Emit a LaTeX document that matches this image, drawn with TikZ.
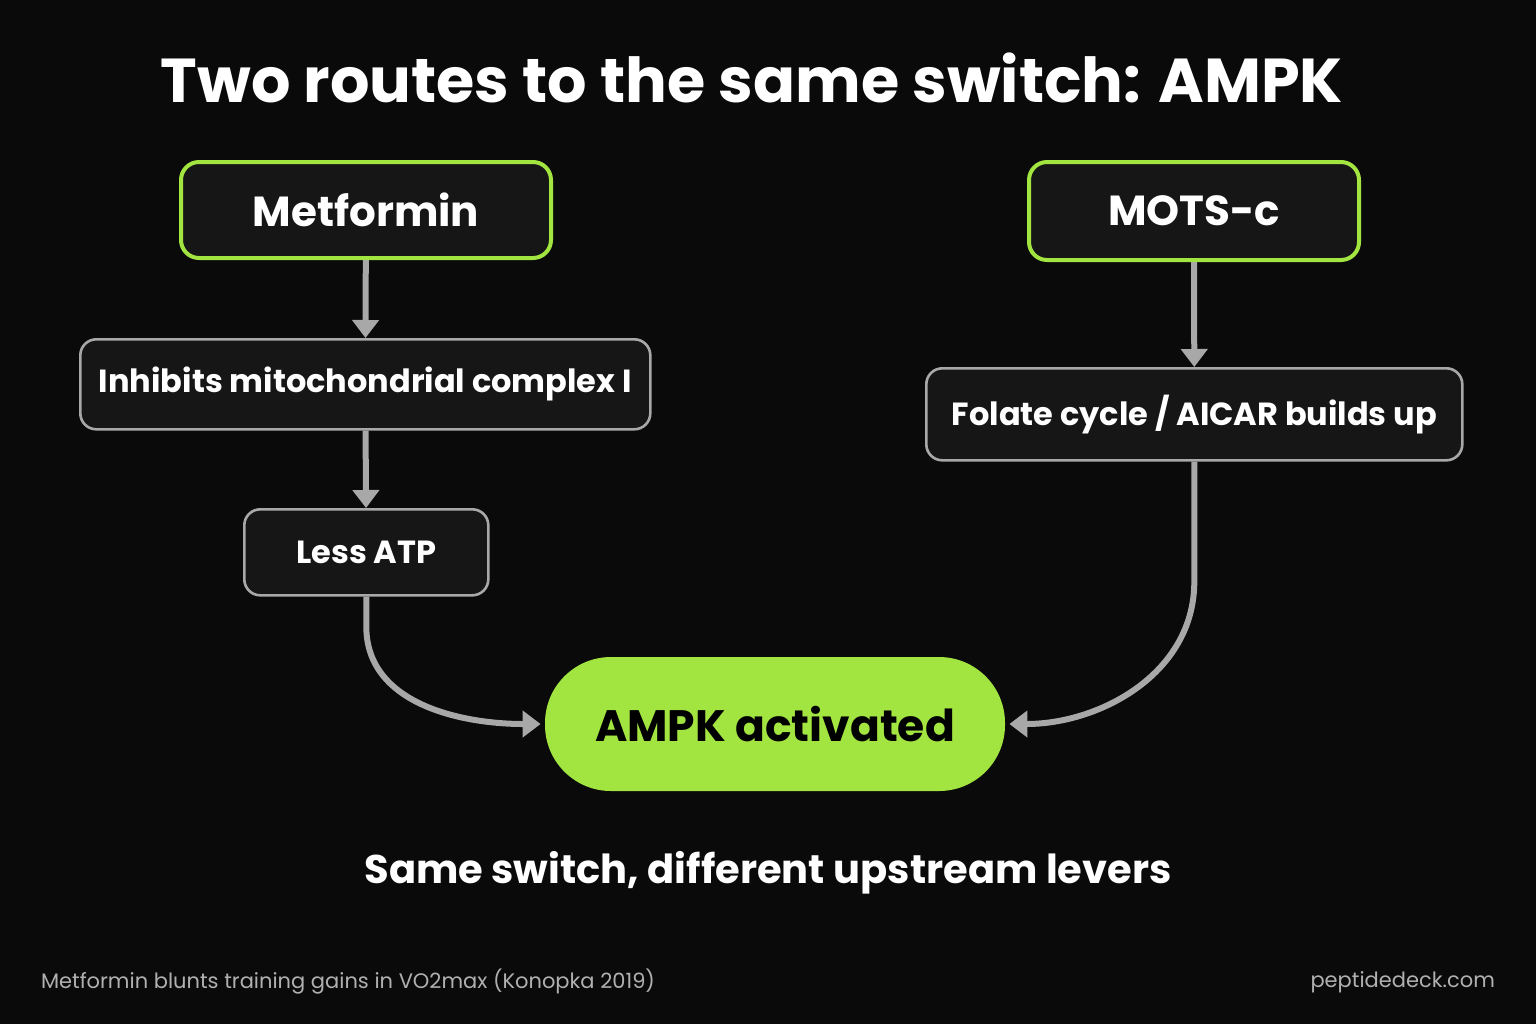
\documentclass[tikz,border=0pt]{standalone}
\usepackage{fontspec}
\setmainfont{Poppins}
\usetikzlibrary{arrows.meta}
\definecolor{bg}{HTML}{0A0A0A}
\definecolor{boxfill}{HTML}{161616}
\definecolor{lime}{HTML}{A3E540}
\definecolor{edge}{HTML}{A8A8A8}
\definecolor{foot}{HTML}{B0B0B0}
\tikzset{
 drug/.style={draw=lime,line width=2pt,rounded corners=9pt,fill=boxfill,text=white,font=\fontsize{21}{24}\selectfont\bfseries,anchor=north west},
 stage/.style={draw=edge,line width=1.3pt,rounded corners=8pt,fill=boxfill,text=white,font=\fontsize{16}{19}\selectfont\bfseries,anchor=north west},
 flow/.style={draw=edge,line width=3pt,-{Triangle[length=9pt,width=13pt]}}
}
\begin{document}
\begin{tikzpicture}[x=0.5pt,y=-0.5pt]
 \useasboundingbox[fill=bg] (0,0) rectangle (1536,1024);
 \node[text=white,font=\fontsize{31}{36}\selectfont\bfseries] (title) at (752,78) {Two routes to the same switch: AMPK};
 % boxes
 \node[drug,minimum width=185pt,minimum height=48pt] (met) at (179,160) {Metformin};
 \node[drug,minimum width=165pt,minimum height=49pt] (mots) at (1027,160) {MOTS-c};
 \node[stage,minimum width=285pt,minimum height=45pt] (inh) at (79,338) {Inhibits mitochondrial complex I};
 \node[stage,minimum width=122pt,minimum height=43pt] (atp) at (243,508) {Less ATP};
 \node[stage,minimum width=268pt,minimum height=46pt] (fol) at (925,367) {Folate cycle / AICAR builds up};
 \node[fill=lime,rounded corners=33pt,minimum width=230pt,minimum height=67pt,font=\fontsize{22}{26}\selectfont\bfseries,text=black] (ampk) at (775,724) {AMPK activated};
 % arrows
 \draw[flow] (met) -- (inh);
 \draw[flow] (inh) -- (atp);
 \draw[flow] (mots.south) -- (fol.north);
 \draw[flow] (atp.south) -- ++(0,30) to[out=-90,in=180] ([xshift=-2pt]ampk.west);
 \draw[flow] (fol.south) -- ++(0,120) to[out=-90,in=0] ([xshift=2pt]ampk.east);
 % captions
 \node[text=white,font=\fontsize{20}{24}\selectfont\bfseries] (sub) at (768,873) {Same switch, different upstream levers};
 \node[text=foot,anchor=west,font=\fontsize{10.5}{12}\selectfont] (src) at (34,982) {Metformin blunts training gains in VO2max (Konopka 2019)};
 \node[text=foot,anchor=east,font=\fontsize{10.5}{12}\selectfont] (site) at (1502,982) {peptidedeck.com};
\end{tikzpicture}
\end{document}
